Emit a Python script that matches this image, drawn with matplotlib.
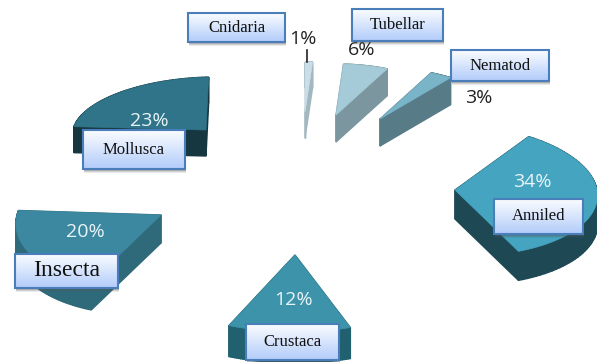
import numpy as np
import matplotlib
matplotlib.use('Agg')
import matplotlib.pyplot as plt
from matplotlib.patches import Polygon, Rectangle

# chart data, clockwise from the top
names = ['Cnidaria', 'Tubellar', 'Nematod', 'Anniled', 'Crustaca', 'Insecta', 'Mollusca']
values = [1, 6, 3, 34, 12, 20, 23]

# look of each exploded slice, all in pixels of the 597x362 picture
apex_x = [305, 336, 380, 455, 295, 161, 206]
apex_y = [112, 115, 119, 190, 255, 215, 130]
radius_x = [120, 120, 120, 142, 165, 144, 133]
radius_y = [50, 51, 51, 66, 77, 72, 53]
skew = [0, 0, 0, -12, 0, 18, 11]
turn = [0, 0, 0, 0, 2, 0, 0]
depth = [26, 27, 27, 29, 31, 28, 26]
top_colors = ['#c9dee6', '#a5cbd8', '#79b4c8', '#45a5c0', '#3d93a9', '#3b88a0', '#2f7488']
side_colors = ['#a3b7c0', '#7c969f', '#577b87', '#1d4854', '#21606f', '#2f6a7a', '#163640']

# label boxes: left, top, right, bottom
boxes = [(188, 13, 285, 42), (352, 9, 443, 41), (451, 50, 549, 81), (494, 199, 583, 234),
         (246, 324, 339, 360), (15, 254, 118, 288), (83, 130, 185, 169)]
box_font = [12, 12, 12, 12, 12, 17, 12]
pct_x = [303, 362, 479, 532, 293, 85, 149]
pct_y = [39, 50, 98, 182, 300, 232, 121]
pct_colors = ['#222222', '#222222', '#222222', '#e8f4f8', '#e8f4f8', '#e8f4f8', '#e8f4f8']

fig = plt.figure(figsize=(5.97, 3.62), dpi=100)
ax = fig.add_axes([0, 0, 1, 1])


def draw_slice(i, start, stop):
    theta = np.radians(np.linspace(start, stop, 60) + turn[i])
    x = apex_x[i] + radius_x[i] * np.sin(theta) + skew[i] * np.cos(theta)
    y = apex_y[i] - radius_y[i] * np.cos(theta)
    x = np.r_[apex_x[i], x]
    y = np.r_[apex_y[i], y]
    # side walls first, the top face goes over them
    for j in range(len(x)):
        k = (j + 1) % len(x)
        wall = [(x[j], y[j]), (x[k], y[k]), (x[k], y[k] + depth[i]), (x[j], y[j] + depth[i])]
        ax.add_patch(Polygon(wall, fc=side_colors[i], ec=side_colors[i], lw=1, zorder=2))
    ax.add_patch(Polygon(np.c_[x, y], fc=top_colors[i], ec=top_colors[i], lw=0.5, zorder=3))


def draw_box(i):
    left, top, right, bottom = boxes[i]
    for off, alpha in [(4, 0.12), (3, 0.18), (2, 0.25)]:
        ax.add_patch(Rectangle((left + 1, top + off), right - left, bottom - top,
                               fc='#555555', ec='none', alpha=alpha, zorder=5))
    fade = np.linspace(0, 1, 32).reshape(-1, 1, 1)
    first = np.array([0.98, 0.99, 1.0]).reshape(1, 1, 3)
    last = np.array([0.70, 0.80, 0.98]).reshape(1, 1, 3)
    ax.imshow(first + (last - first) * fade, extent=(left, right, bottom, top),
              aspect='auto', zorder=6)
    ax.add_patch(Rectangle((left, top), right - left, bottom - top, fc='none',
                           ec='#4a7ebb', lw=1.5, zorder=7))
    ax.text((left + right) / 2, (top + bottom) / 2, names[i], fontsize=box_font[i],
            family='Liberation Serif', color='#111111', ha='center', va='center', zorder=8)


edges = np.cumsum([0] + values) * 3.6
for i in range(len(values)):
    draw_slice(i, edges[i], edges[i + 1])
    draw_box(i)
    ax.text(pct_x[i], pct_y[i], f'{values[i]}%', fontsize=14, family='Open Sans',
            color=pct_colors[i], ha='center', va='center', zorder=4)

# small leader line under the 1% label
ax.plot([307, 307], [50, 62], color='#222222', lw=1.2, zorder=4)

ax.set_xlim(0, 597)
ax.set_ylim(362, 0)
ax.axis('off')
fig.savefig('out.png', dpi=100)
